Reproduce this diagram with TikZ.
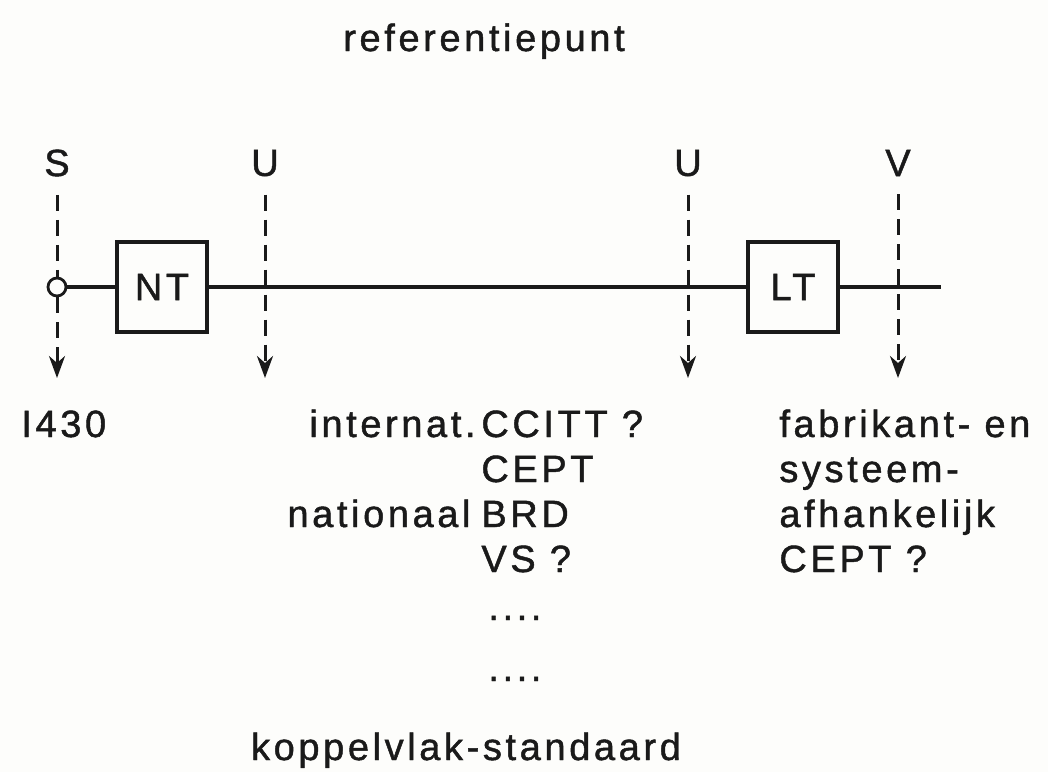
\documentclass[tikz,border=0pt]{standalone}
\usepackage{fontspec}
\setmainfont{Liberation Sans}[LetterSpace=9.5,FakeBold=1.2]
\usepackage{xcolor}
\definecolor{cInk}{HTML}{1A1A1A}
\definecolor{cPaper}{HTML}{FDFDFB}
\usepackage{tikz}
\usetikzlibrary{positioning,arrows.meta,backgrounds}
\newcommand\refsize{\fontsize{19}{22}\selectfont}
\tikzset{
  node-box/.style={draw=cInk,line width=1.7pt,minimum size=45pt,inner sep=0pt,
    font=\refsize,text=cInk},
  node-port/.style={draw=cInk,line width=1.4pt,circle,minimum size=9pt,inner sep=0pt},
  node-ref/.style={font=\refsize,text=cInk,inner sep=0pt},
  node-txt/.style={font=\refsize,text=cInk,inner sep=0pt},
  line-main/.style={draw=cInk,line width=1.6pt},
  line-dash/.style={draw=cInk,line width=1.5pt,dash pattern=on 8pt off 4.5pt},
  arrow-ref/.style={-{Stealth[length=11pt,width=8pt,inset=3.5pt]},line-dash},
}

\begin{document}
\begin{tikzpicture}[x=0.5pt,y=-0.5pt]
  \fill[cPaper] (0,0) rectangle (1048,772);
  \useasboundingbox (0,0) rectangle (1048,772);
  % referentiepunten
  \node[node-txt,anchor=base] (ref) at (484,51) {referentiepunt};
  \node[node-ref] (s)  at (57,163)  {S};
  \node[node-ref] (u1) at (265,163) {U};
  \node[node-ref] (u2) at (688,163) {U};
  \node[node-ref] (v)  at (898,163) {V};
  \coordinate (s-end)  at (57,378);
  \coordinate (u1-end) at (265,378);
  \coordinate (u2-end) at (688,378);
  \coordinate (v-end)  at (898,378);
  % aansluitlijn
  \node[node-port] (port) at (57,287) {};
  \node[node-box] (nt) at (162,287) {NT};
  \node[node-box] (lt) at (793,287) {LT};
  \coordinate (line-end) at (941,287);
  \draw[line-main] (port) -- (nt) (nt) -- (lt) (lt) -- (line-end);
  \draw[line-dash] ([yshift=-9pt]s.south) -- (port);
  \draw[arrow-ref] (port) -- (s-end);
  \draw[arrow-ref] ([yshift=-9pt]u1.south) -- (u1-end);
  \draw[arrow-ref] ([yshift=-9pt]u2.south) -- (u2-end);
  \draw[arrow-ref] ([yshift=-9pt]v.south) -- (v-end);
  % standaarden
  \node[node-txt,anchor=base west] (i430) at (21,437) {I430};
  \node[node-txt,anchor=base east] (intl) at (476,437) {internat.};
  \node[node-txt,anchor=base east] (natl) at (471,527) {nationaal};
  \node[node-txt,anchor=base west] (ccitt) at (481,437) {CCITT ?};
  \node[node-txt,anchor=base west] (cept)  at (481,482) {CEPT};
  \node[node-txt,anchor=base west] (brd)   at (481,527) {BRD};
  \node[node-txt,anchor=base west] (vs)    at (481,572) {VS ?};
  \node[node-txt,anchor=base west] (dots1) at (488,620) {....};
  \node[node-txt,anchor=base west] (dots2) at (488,681) {....};
  \node[node-txt,anchor=base west] (fab)  at (779,437) {fabrikant- en};
  \node[node-txt,anchor=base west] (sys)  at (779,482) {systeem-};
  \node[node-txt,anchor=base west] (afh)  at (779,527) {afhankelijk};
  \node[node-txt,anchor=base west] (cept2) at (779,572) {CEPT ?};
  \node[node-txt,anchor=base] (kop) at (466,760) {koppelvlak-standaard};
\end{tikzpicture}
\end{document}
